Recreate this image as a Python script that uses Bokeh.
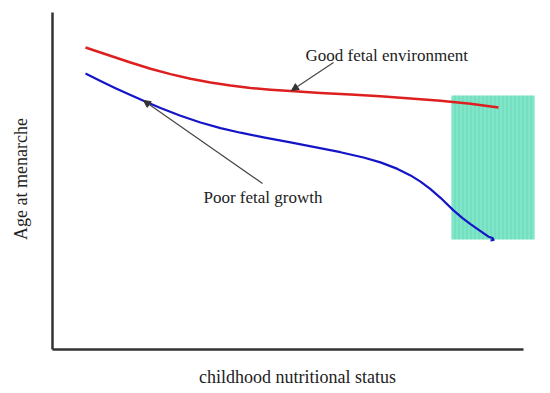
from bokeh.plotting import figure
from bokeh.models import Range1d, FixedTicker, Arrow, NormalHead, Label
from bokeh.embed import file_html
from bokeh.resources import INLINE

# Data (arbitrary units)
good_x = [33, 48, 63, 78, 98, 118, 138, 158, 178, 198, 218, 238, 268, 298, 328, 358, 388, 418, 446]
good_y = [302, 297, 292, 287, 280.8, 275.4, 270.8, 267.0, 264.0, 261.6, 259.8, 258.4, 256.6, 255.0,
          253.2, 251.1, 248.7, 245.7, 242.0]

poor_x = [33, 48, 63, 78, 91, 108, 128, 148, 168, 188, 211, 238, 261, 288, 311, 328, 345, 358, 368,
          378, 388, 401, 410, 418, 428, 436, 440, 441, 438]
poor_y = [276, 268.5, 261.3, 254.4, 248.7, 241.6, 233.8, 227.0, 221.4, 216.8, 212.2, 207.1, 202.7,
          197.3, 192.0, 187.1, 180.6, 174.1, 167.9, 160.4, 151.7, 139.1, 131.4, 125.4, 118.4, 112.8,
          111.5, 109.5, 109]

box_left, box_right, box_bottom, box_top = [399], [482], [110], [254]

label_good = "Good fetal environment"
label_poor = "Poor fetal growth"
x_title = "childhood nutritional status"
y_title = "Age at menarche"

FONT = "Liberation Serif"

p = figure(width=542, height=390, output_backend="svg", toolbar_location=None,
           x_range=Range1d(0, 490), y_range=Range1d(0, 341),
           min_border_left=52, min_border_right=0, min_border_top=8, min_border_bottom=41)
p.outline_line_color = None
p.grid.visible = False
p.background_fill_color = "white"
p.border_fill_color = "white"

for ax in (p.xaxis[0], p.yaxis[0]):
    ax.ticker = FixedTicker(ticks=[])
    ax.major_tick_line_color = None
    ax.minor_tick_line_color = None
    ax.major_label_text_font_size = "0px"
    ax.axis_line_color = "#333333"
    ax.axis_line_width = 2.5
    ax.axis_label_text_font = FONT
    ax.axis_label_text_font_size = "18px"
    ax.axis_label_text_font_style = "normal"
    ax.axis_label_text_color = "#222222"

p.xaxis.axis_label = x_title
p.yaxis.axis_label = y_title
p.xaxis.bounds = (0, 471)
p.yaxis.bounds = (0, 337)
p.xaxis.axis_label_standoff = 17
p.yaxis.axis_label_standoff = 22

p.quad(left=box_left, right=box_right, bottom=box_bottom, top=box_top,
       fill_color="#80e6c8", line_color=None,
       hatch_pattern="vertical_line", hatch_color="#5fcdb0", hatch_scale=4, hatch_weight=1, hatch_alpha=0.6)

p.line(good_x, good_y, line_color="#dd1f1f", line_width=2.5, line_join="round")
p.line(poor_x, poor_y, line_color="#1515c8", line_width=2.2, line_join="round")

p.add_layout(Arrow(end=NormalHead(size=7, fill_color="#333333", line_color="#333333"),
                   x_start=281, y_start=287, x_end=239, y_end=259,
                   line_color="#444444", line_width=1.2))
p.add_layout(Arrow(end=NormalHead(size=7, fill_color="#333333", line_color="#333333"),
                   x_start=210, y_start=166, x_end=91, y_end=249,
                   line_color="#444444", line_width=1.2))

p.add_layout(Label(x=253, y=294, text=label_good, text_font=FONT, text_font_size="17px",
                   text_baseline="middle", text_color="#222222"))
p.add_layout(Label(x=151, y=152, text=label_poor, text_font=FONT, text_font_size="17px",
                   text_baseline="middle", text_color="#222222"))

open("out.html", "w").write(file_html(p, INLINE))
